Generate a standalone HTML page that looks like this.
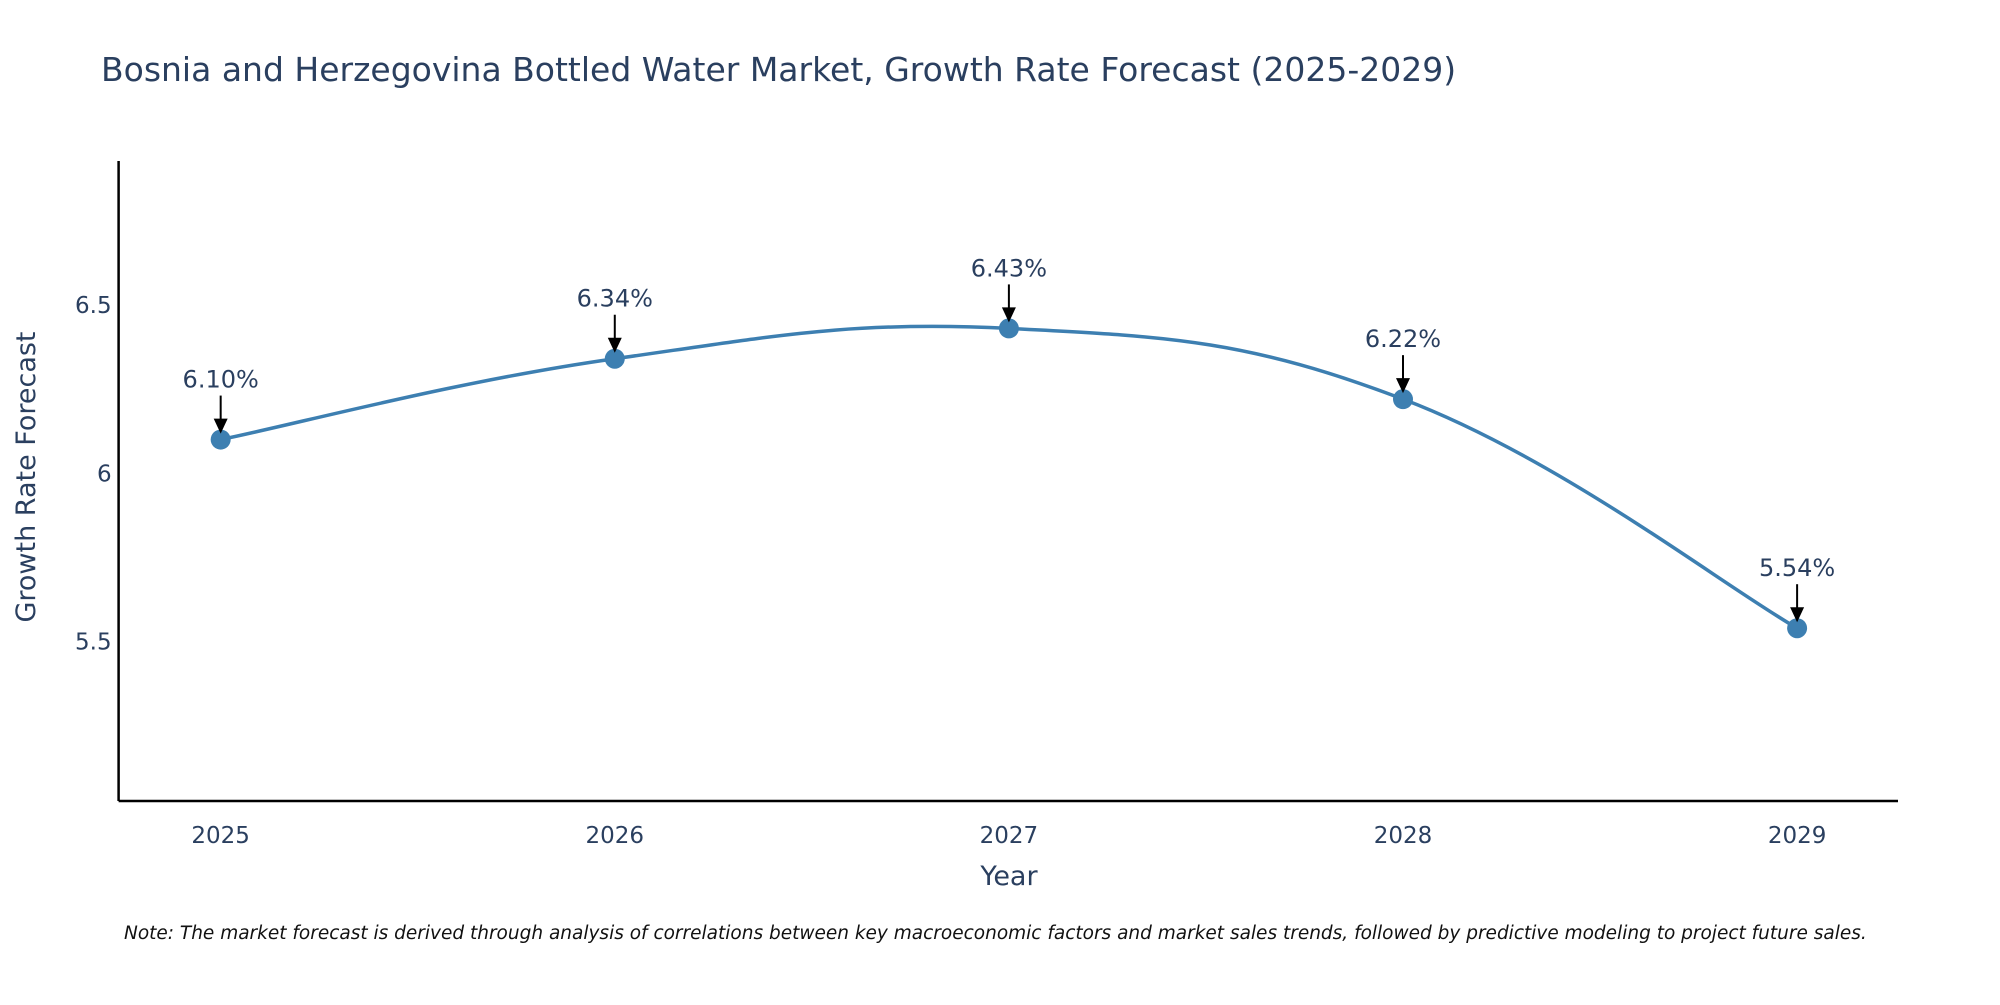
<!DOCTYPE html>
<html><head><meta charset="utf-8"><style>
html,body{margin:0;padding:0;background:#fff;}
svg text{font-family:"DejaVu Sans","Liberation Sans",sans-serif;fill:#2a3f5f;}
</style></head><body>
<svg id="chart" width="2000" height="1000" xmlns="http://www.w3.org/2000/svg">
<text x="101" y="81" font-size="33">Bosnia and Herzegovina Bottled Water Market, Growth Rate Forecast (2025-2029)</text>
<g id="axes"></g>
<g id="marks"></g>
<text x="1009" y="885" font-size="27" text-anchor="middle">Year</text>
<text x="0" y="0" font-size="27" text-anchor="middle" transform="translate(35,477) rotate(-90)">Growth Rate Forecast</text>
<text x="124" y="939" font-size="18.5" font-style="italic" style="fill:#111">Note: The market forecast is derived through analysis of correlations between key macroeconomic factors and market sales trends, followed by predictive modeling to project future sales.</text>
</svg>
<script>
const years = [2025, 2026, 2027, 2028, 2029];
const growth = [6.10, 6.34, 6.43, 6.22, 5.54];
const labels = ["6.10%", "6.34%", "6.43%", "6.22%", "5.54%"];
const yTicks = [5.5, 6, 6.5];

const L=118.6,R=1898,T=161,B=801;
const xMin=2024.741,xMax=2029.256,yMin=5.027,yMax=6.927;
const x=v=>L+(v-xMin)/(xMax-xMin)*(R-L);
const y=v=>B-(v-yMin)/(yMax-yMin)*(B-T);
const NS="http://www.w3.org/2000/svg";
function mk(tag,attrs,parent,text){const e=document.createElementNS(NS,tag);for(const k in attrs)e.setAttribute(k,attrs[k]);if(text!==undefined)e.textContent=text;parent.appendChild(e);return e;}
const axes=document.getElementById('axes'),marks=document.getElementById('marks');

const ya=mk('line',{x1:L,y1:T,x2:L,y2:B,stroke:'#000','stroke-width':2.5},axes);


const xa=mk('line',{x1:L,y1:B,x2:R,y2:B,stroke:'#000','stroke-width':2.5},axes);


yTicks.forEach(v=>{
  const t=mk('text',{x:L-7,y:y(v)+8,'font-size':23,'text-anchor':'end'},axes,String(v));
  
  
});
years.forEach(v=>{
  const t=mk('text',{x:x(v),y:B+42,'font-size':23,'text-anchor':'middle'},axes,String(v));
  
  
});
const pts=years.map((yr,i)=>[x(yr),y(growth[i])]);
let d=`M${pts[0][0]},${pts[0][1]}`;const k=0.2;
for(let i=0;i<pts.length-1;i++){
  const p0=pts[Math.max(i-1,0)],p1=pts[i],p2=pts[i+1],p3=pts[Math.min(i+2,pts.length-1)];
  const c1=[p1[0]+(p2[0]-p0[0])*k,p1[1]+(p2[1]-p0[1])*k];
  const c2=[p2[0]-(p3[0]-p1[0])*k,p2[1]-(p3[1]-p1[1])*k];
  d+=` C${c1[0]},${c1[1]} ${c2[0]},${c2[1]} ${p2[0]},${p2[1]}`;
}
const line=mk('path',{d:d,fill:'none',stroke:'#3d7fb1','stroke-width':3.5},marks);


pts.forEach((p,i)=>{
  const c=mk('circle',{cx:p[0],cy:p[1],r:10,fill:'#3d7fb1'},marks);
  
  
  const a=mk('line',{x1:p[0],y1:p[1]-44,x2:p[0],y2:p[1]-18,stroke:'#000','stroke-width':2},marks);
  
  
  const h=mk('polygon',{points:`${p[0]-7},${p[1]-21} ${p[0]+7},${p[1]-21} ${p[0]},${p[1]-6}`,fill:'#000'},marks);
  
  
  const t=mk('text',{x:p[0],y:p[1]-52,'font-size':24,'text-anchor':'middle'},marks,labels[i]);
  
  
});
</script>
</body></html>
